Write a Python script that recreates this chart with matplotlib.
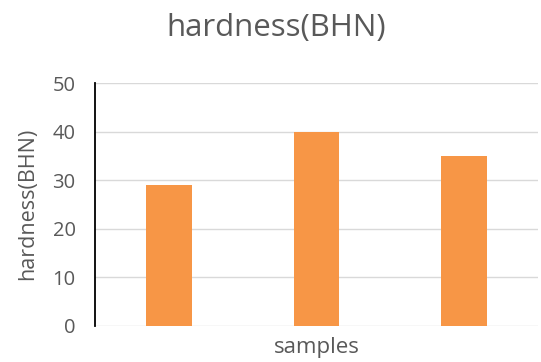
import matplotlib.pyplot as plt

# data
samples = ["1", "2", "3"]
hardness = [29, 40, 35]
yticks = [0, 10, 20, 30, 40, 50]

plt.rcParams['font.family'] = ['Open Sans', 'DejaVu Sans']
grey = '#595959'

fig = plt.figure(figsize=(5.41, 3.62), dpi=100)
ax = fig.add_axes([0.1756, 0.1008, 0.819, 0.6699])

ax.bar(range(len(samples)), hardness, width=0.31, color='#F79646', zorder=3)
ax.set_xlim(-0.5, len(samples) - 0.5)
ax.set_ylim(0, 50)
ax.set_yticks(yticks)
ax.set_xticks([])
ax.yaxis.grid(True, color='#D9D9D9', linewidth=1, zorder=0)

for s in ['top', 'right', 'bottom']:
    ax.spines[s].set_visible(False)
ax.spines['left'].set_color('black')
ax.spines['left'].set_linewidth(1.3)
ax.spines['left'].set_zorder(4)

ax.tick_params(axis='y', length=0, pad=14, labelsize=14.5, labelcolor=grey)
ax.set_xlabel('samples', fontsize=16, color=grey, labelpad=8)
ax.set_ylabel('hardness(BHN)', fontsize=15.5, color=grey, labelpad=10)
fig.suptitle('hardness(BHN)', fontsize=22.5, color=grey, x=0.51, y=0.965)

fig.savefig('out.png', dpi=100)
